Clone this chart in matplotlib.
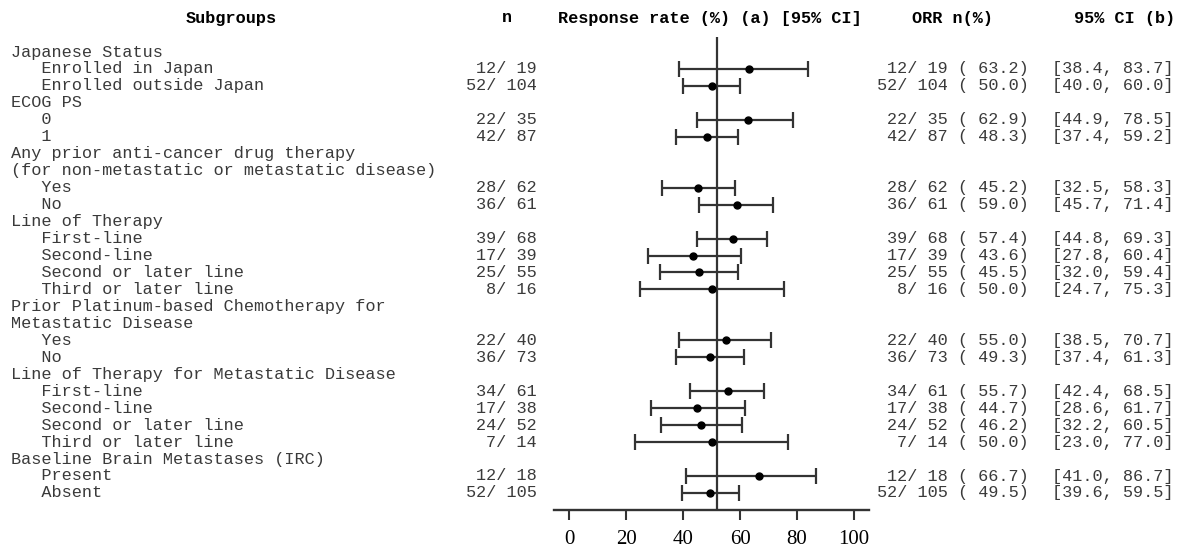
import numpy as np
import matplotlib
matplotlib.use("Agg")
import matplotlib.pyplot as plt
from matplotlib.transforms import blended_transform_factory

# DATA -- subgroup rows, top to bottom (None = heading row without estimate)
labels = [
    "Japanese Status",
    "   Enrolled in Japan",
    "   Enrolled outside Japan",
    "ECOG PS",
    "   0",
    "   1",
    "Any prior anti-cancer drug therapy",
    "(for non-metastatic or metastatic disease)",
    "   Yes",
    "   No",
    "Line of Therapy",
    "   First-line",
    "   Second-line",
    "   Second or later line",
    "   Third or later line",
    "Prior Platinum-based Chemotherapy for",
    "Metastatic Disease",
    "   Yes",
    "   No",
    "Line of Therapy for Metastatic Disease",
    "   First-line",
    "   Second-line",
    "   Second or later line",
    "   Third or later line",
    "Baseline Brain Metastases (IRC)",
    "   Present",
    "   Absent",
]
responders = [None, 12, 52, None, 22, 42, None, None, 28, 36, None, 39, 17, 25, 8,
              None, None, 22, 36, None, 34, 17, 24, 7, None, 12, 52]
totals     = [None, 19, 104, None, 35, 87, None, None, 62, 61, None, 68, 39, 55, 16,
              None, None, 40, 73, None, 61, 38, 52, 14, None, 18, 105]
orr_pct    = [None, 63.2, 50.0, None, 62.9, 48.3, None, None, 45.2, 59.0, None, 57.4, 43.6, 45.5, 50.0,
              None, None, 55.0, 49.3, None, 55.7, 44.7, 46.2, 50.0, None, 66.7, 49.5]
ci_low     = [None, 38.4, 40.0, None, 44.9, 37.4, None, None, 32.5, 45.7, None, 44.8, 27.8, 32.0, 24.7,
              None, None, 38.5, 37.4, None, 42.4, 28.6, 32.2, 23.0, None, 41.0, 39.6]
ci_high    = [None, 83.7, 60.0, None, 78.5, 59.2, None, None, 58.3, 71.4, None, 69.3, 60.4, 59.4, 75.3,
              None, None, 70.7, 61.3, None, 68.5, 61.7, 60.5, 77.0, None, 86.7, 59.5]
OVERALL_ORR = 52.0
x_ticks = [0, 20, 40, 60, 80, 100]

# LAYOUT (figure pixels)
W, H = 1183, 549
ROW0_PX, ROW_STEP = 52.0, 16.96
AX_X0, AX_X1 = 554, 869
AX_TOP, AX_BOT = 30, 509.5
HEAD_Y = 18

MONO = ["Liberation Mono", "DejaVu Sans Mono"]
SERIF = ["Liberation Serif", "DejaVu Serif"]
LINE_COL = "#333333"
TEXT_COL = "#3a3a3a"
FS = 12.2

fig = plt.figure(figsize=(W / 100, H / 100), dpi=100)
fig.patch.set_facecolor("white")

row_top = (AX_TOP - ROW0_PX) / ROW_STEP
row_bot = (AX_BOT - ROW0_PX) / ROW_STEP
ax = fig.add_axes([AX_X0 / W, 1 - AX_BOT / H, (AX_X1 - AX_X0) / W, (AX_BOT - AX_TOP) / H])
ax.set_xlim(-5.4, 105.3)
ax.set_ylim(row_bot, row_top)
ax.patch.set_alpha(0)

# forest plot: overall reference line + subgroup estimates with 95% CI
ax.plot([OVERALL_ORR, OVERALL_ORR], [-0.88, row_bot], color=LINE_COL, lw=1.6,
        solid_capstyle="butt", zorder=1)

idx = [i for i, v in enumerate(orr_pct) if v is not None]
pts = np.array([orr_pct[i] for i in idx])
lo = np.array([ci_low[i] for i in idx])
hi = np.array([ci_high[i] for i in idx])
ax.errorbar(pts, idx, xerr=[pts - lo, hi - pts], fmt="o", color="black",
            ecolor=LINE_COL, elinewidth=1.6, capsize=5.7, capthick=1.6,
            markersize=5, zorder=3)

for side in ["left", "top", "right"]:
    ax.spines[side].set_visible(False)
ax.spines["bottom"].set_color(LINE_COL)
ax.spines["bottom"].set_linewidth(1.7)
ax.set_yticks([])
ax.set_xticks(x_ticks)
ax.set_xticklabels([str(t) for t in x_ticks], family=SERIF)
ax.tick_params(axis="x", direction="out", length=7, width=1.5, color=LINE_COL,
               labelcolor="black", labelsize=15, pad=8)

# table text
tr = blended_transform_factory(fig.transFigure, ax.transData)
for i, lab in enumerate(labels):
    fig.text(11 / W, i, lab, transform=tr, ha="left", va="center",
             family=MONO, fontsize=FS, color=TEXT_COL)
    if responders[i] is None:
        continue
    fig.text(537 / W, i, f"{responders[i]}/ {totals[i]}", transform=tr,
             ha="right", va="center", family=MONO, fontsize=FS, color=TEXT_COL)
    fig.text(1029 / W, i, f"{responders[i]}/ {totals[i]} ({orr_pct[i]:5.1f})",
             transform=tr, ha="right", va="center", family=MONO, fontsize=FS,
             color=TEXT_COL)
    fig.text(1052 / W, i, f"[{ci_low[i]:.1f}, {ci_high[i]:.1f}]", transform=tr,
             ha="left", va="center", family=MONO, fontsize=FS, color=TEXT_COL)

# column headings
heads = [(231, "Subgroups"), (507, "n"), (710, "Response rate (%) (a) [95% CI]"),
         (953, "ORR n(%)"), (1125, "95% CI (b)")]
for x, s in heads:
    fig.text(x / W, 1 - HEAD_Y / H, s, ha="center", va="center", family=MONO,
             fontsize=FS, fontweight="bold", color="black")

fig.savefig("out.png", dpi=100)
